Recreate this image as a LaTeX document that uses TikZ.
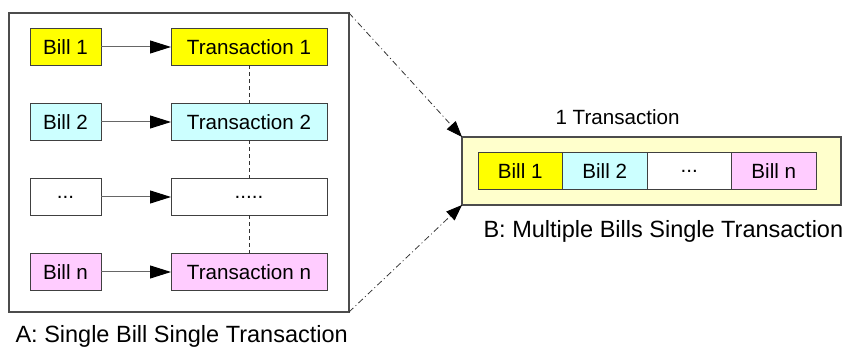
\documentclass[tikz,border=0pt]{standalone}
\usepackage{fontspec}
\setmainfont{Liberation Sans}
\usetikzlibrary{arrows.meta,positioning}
\definecolor{billone}{HTML}{FFFF00}
\definecolor{billtwo}{HTML}{CCFFFF}
\definecolor{billn}{HTML}{FFCCFF}
\definecolor{txnback}{HTML}{FFFFCC}
\tikzset{
    box/.style={draw=black!75,line width=1pt,inner sep=0pt,outer sep=0pt,minimum height=37pt},
    bill/.style={box,minimum width=71pt},
    trans/.style={box,minimum width=156pt},
    seg/.style={box,minimum width=84.5pt},
    frame/.style={draw=black!70,line width=1.2pt,inner sep=0pt,outer sep=0pt},
    caption/.style={anchor=base west,font=\fontsize{23.5}{28}\selectfont},
    arr/.style={-{Triangle[length=21pt,width=13pt,color=black]},black!60,line width=1pt},
    zoomarr/.style={-{Triangle[length=16pt,width=12pt,color=black]},black!80,line width=0.8pt,
        dash pattern=on 6pt off 3pt on 1pt off 3pt},
    link/.style={black!80,line width=0.8pt,dash pattern=on 4pt off 3pt},
}
\tikzstyle{every node}=[font=\fontsize{20.6}{24}\selectfont]

\begin{document}
\begin{tikzpicture}[x=1pt,y=1pt,node distance=38pt and 70pt]
        \useasboundingbox (0,0) rectangle (850,347);

        % A: one transaction per bill
        \node[frame,minimum width=340pt,minimum height=299pt] (groupA) at (179,184.5) {};
        \node[bill,fill=billone] (bill1) at (65.5,300) {Bill 1};
        \node[bill,fill=billtwo,below=of bill1] (bill2) {Bill 2};
        \node[bill,below=of bill2] (billdots) {...};
        \node[bill,fill=billn,below=of billdots] (billn) {Bill n};
        \node[trans,fill=billone,right=of bill1] (trans1) {Transaction 1};
        \node[trans,fill=billtwo,right=of bill2] (trans2) {Transaction 2};
        \node[trans,right=of billdots] (transdots) {.....};
        \node[trans,fill=billn,right=of billn] (transn) {Transaction n};
        \draw[arr] (bill1) -- (trans1);
        \draw[arr] (bill2) -- (trans2);
        \draw[arr] (billdots) -- (transdots);
        \draw[arr] (billn) -- (transn);
        \draw[link] (trans1) -- (trans2);
        \draw[link] (trans2) -- (transdots);
        \draw[link] (transdots) -- (transn);
        \node[caption] (labelA) at (12,4) {A: Single Bill Single Transaction};

        % B: all bills in one transaction
        \node[frame,fill=txnback,minimum width=379pt,minimum height=68pt] (groupB) at (651.5,176) {};
        \node[seg,fill=billone] (seg1) at (520.25,175.5) {Bill 1};
        \node[seg,fill=billtwo,right=0pt of seg1] (seg2) {Bill 2};
        \node[seg,fill=white,right=0pt of seg2] (segdots) {...};
        \node[seg,fill=billn,right=0pt of segdots] (segn) {Bill n};
        \node[anchor=base west] (titleB) at (552,222) {1 Transaction};
        \node[caption] (labelB) at (480,109) {B: Multiple Bills Single Transaction};

        \draw[zoomarr] (groupA.north east) -- (groupB.north west);
        \draw[zoomarr] (groupA.south east) -- (groupB.south west);
    \end{tikzpicture}
\end{document}
